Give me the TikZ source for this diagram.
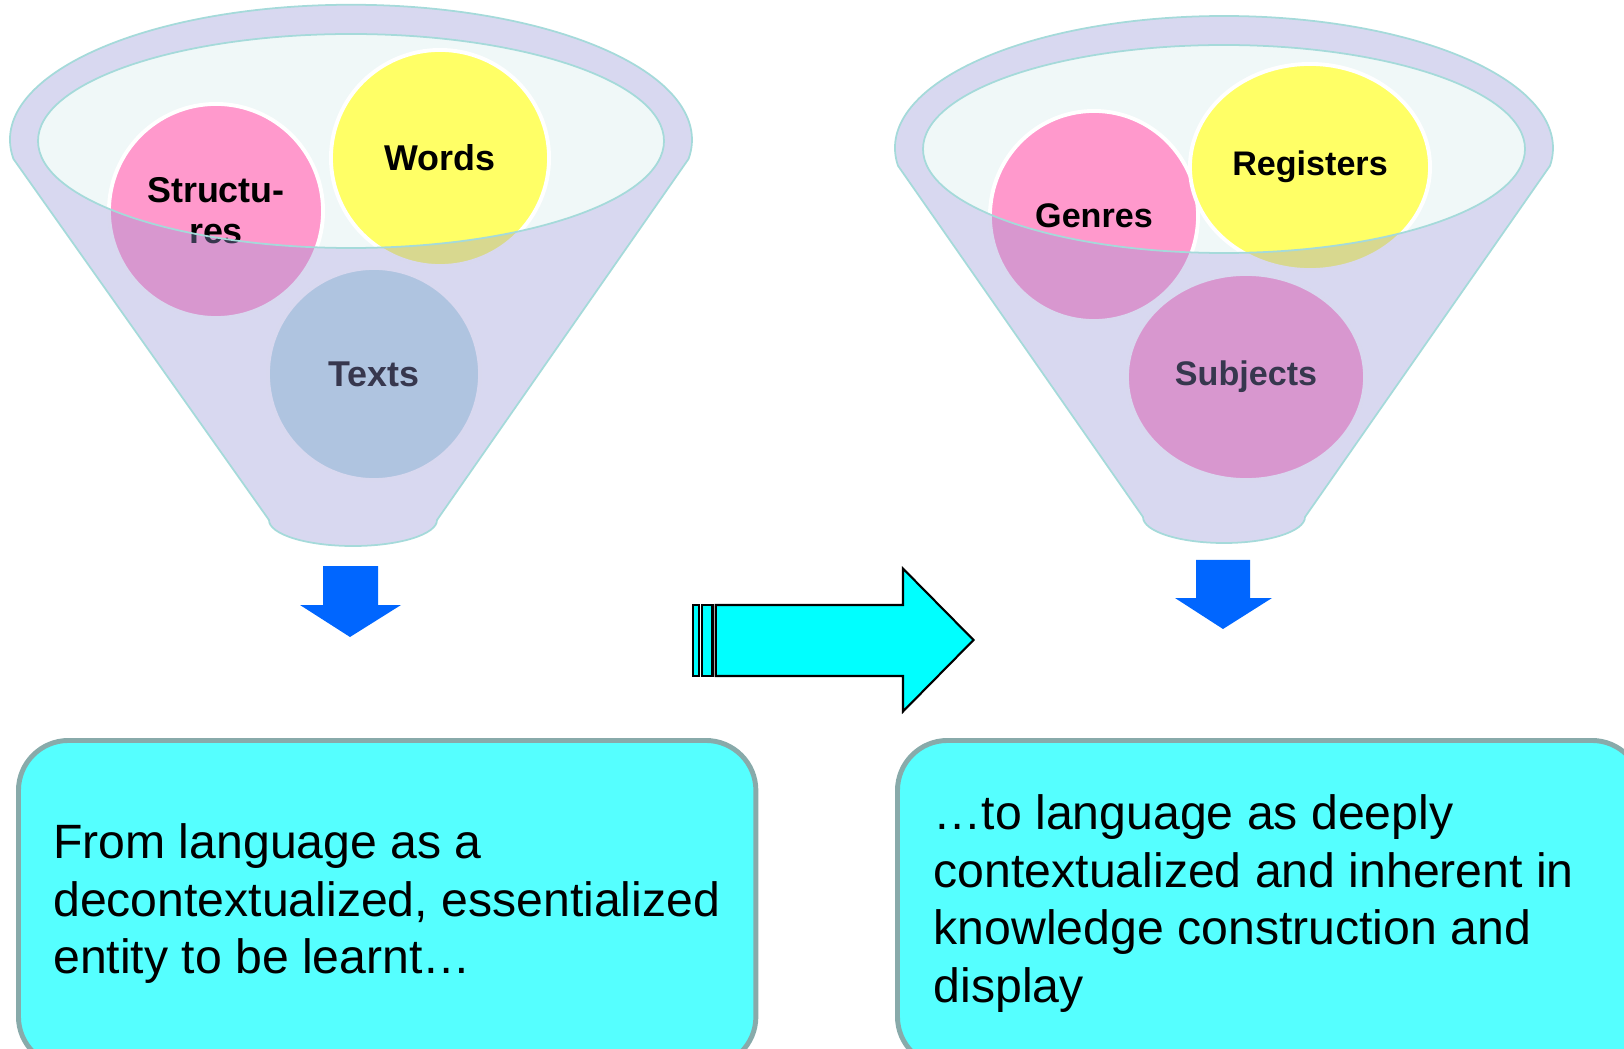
\documentclass[tikz,border=0pt]{standalone}
\usepackage{fontspec}
\setmainfont{Liberation Sans}
\usetikzlibrary{shapes}

\definecolor{rosa}{RGB}{255,153,204}
\definecolor{amarillo}{RGB}{255,255,102}
\definecolor{celeste}{RGB}{191,223,230}
\definecolor{lavanda}{RGB}{150,150,214}
\definecolor{fondoboca}{RGB}{240,248,248}
\definecolor{bordeclaro}{RGB}{165,218,218}
\definecolor{caja}{RGB}{85,255,255}
\definecolor{cajaborde}{RGB}{136,170,170}
\definecolor{azul}{RGB}{0,102,255}
\definecolor{cian}{RGB}{0,255,255}

\begin{document}
\begin{tikzpicture}[x=0.01cm, y=-0.01cm,
    circulo/.style={ellipse, draw=white, line width=1.1pt, inner sep=0pt, align=center,
        font=\bfseries\fontsize{10.2}{11.7}\selectfont},
    frente/.style={fill=lavanda, fill opacity=0.37, even odd rule},
    borde/.style={draw=bordeclaro, line width=0.5pt},
    caja/.style={draw=cajaborde, line width=1.4pt, fill=caja, rounded corners=0.5cm, inner sep=0pt},
    texto/.style={align=left, inner sep=0pt, font=\fontsize{13.7}{16.4}\selectfont},
    flecha/.style={fill=cian, draw=black, line width=0.6pt}]

    \useasboundingbox (0,0) rectangle (1624,1049);
    \clip (0,0) rectangle (1624,1049);

    % Embudo izquierdo
    \fill[fondoboca] (351,141) ellipse [x radius=313, y radius=107];
    \node[circulo, fill=rosa, minimum width=2.14cm, minimum height=2.14cm] (struct) at (216,211) {Structu-\\res};
    \node[circulo, fill=amarillo, minimum width=2.18cm, minimum height=2.16cm] (words) at (440,158) {Words};
    \node[circulo, fill=celeste, minimum width=2.12cm, minimum height=2.12cm] (texts) at (374,374) {Texts};
    \fill[frente] (13.5,159) arc[start angle=171.8, end angle=368.2, x radius=341, y radius=135]
        -- (437,520) arc[start angle=0, end angle=180, x radius=84, y radius=26] -- cycle
        (351,141) ellipse [x radius=313, y radius=107];
    \draw[borde] (13.5,159) arc[start angle=171.8, end angle=368.2, x radius=341, y radius=135]
        -- (437,520) arc[start angle=0, end angle=180, x radius=84, y radius=26] -- cycle;
    \draw[borde] (351,141) ellipse [x radius=313, y radius=107];

    % Embudo derecho
    \fill[fondoboca] (1224,149) ellipse [x radius=301, y radius=104];
    \node[circulo, fill=rosa, minimum width=2.08cm, minimum height=2.1cm, font=\bfseries\fontsize{9.7}{11}\selectfont] (genres) at (1094,216) {Genres};
    \node[circulo, fill=amarillo, minimum width=2.4cm, minimum height=2.06cm, font=\bfseries\fontsize{9.7}{11}\selectfont] (registers) at (1310,167) {Registers};
    \node[circulo, fill=rosa, minimum width=2.38cm, minimum height=2.06cm, font=\bfseries\fontsize{9.7}{11}\selectfont] (subjects) at (1246,377) {Subjects};
    \fill[frente] (898,165.75) arc[start angle=172.27, end angle=367.73, x radius=329, y radius=132]
        -- (1305,517) arc[start angle=0, end angle=180, x radius=81, y radius=26] -- cycle
        (1224,149) ellipse [x radius=301, y radius=104];
    \draw[borde] (898,165.75) arc[start angle=172.27, end angle=367.73, x radius=329, y radius=132]
        -- (1305,517) arc[start angle=0, end angle=180, x radius=81, y radius=26] -- cycle;
    \draw[borde] (1224,149) ellipse [x radius=301, y radius=104];

    % Flechas hacia abajo
    \fill[azul] (323,566) -- (378,566) -- (378,605) -- (401,605) -- (350,637) -- (300,605) -- (323,605) -- cycle;
    \fill[azul] (1196,560) -- (1250,560) -- (1250,598) -- (1272,598) -- (1223,629) -- (1175,598) -- (1196,598) -- cycle;

    % Flecha rayada
    \filldraw[flecha] (693,605) rectangle (699,676);
    \filldraw[flecha] (702,605) rectangle (712.5,676);
    \filldraw[flecha] (715.7,605) -- (903,605) -- (903,568.6) -- (973.5,640) -- (903,711.5) -- (903,676) -- (715.7,676) -- cycle;

    % Cajas de texto
    \node[caja, minimum width=7.37cm, minimum height=3.26cm, anchor=north west] (cajaL) at (16,738) {};
    \node[texto, anchor=west] (txtL) at ([xshift=0.365cm]cajaL.west)
        {From language as a\\decontextualized, essentialized\\entity to be learnt…};
    \node[caja, minimum width=7.44cm, minimum height=3.26cm, anchor=north west] (cajaR) at (895,738) {};
    \node[texto, anchor=west] (txtR) at ([xshift=0.38cm]cajaR.west)
        {…to language as deeply\\contextualized and inherent in\\knowledge construction and\\display};
\end{tikzpicture}
\end{document}
